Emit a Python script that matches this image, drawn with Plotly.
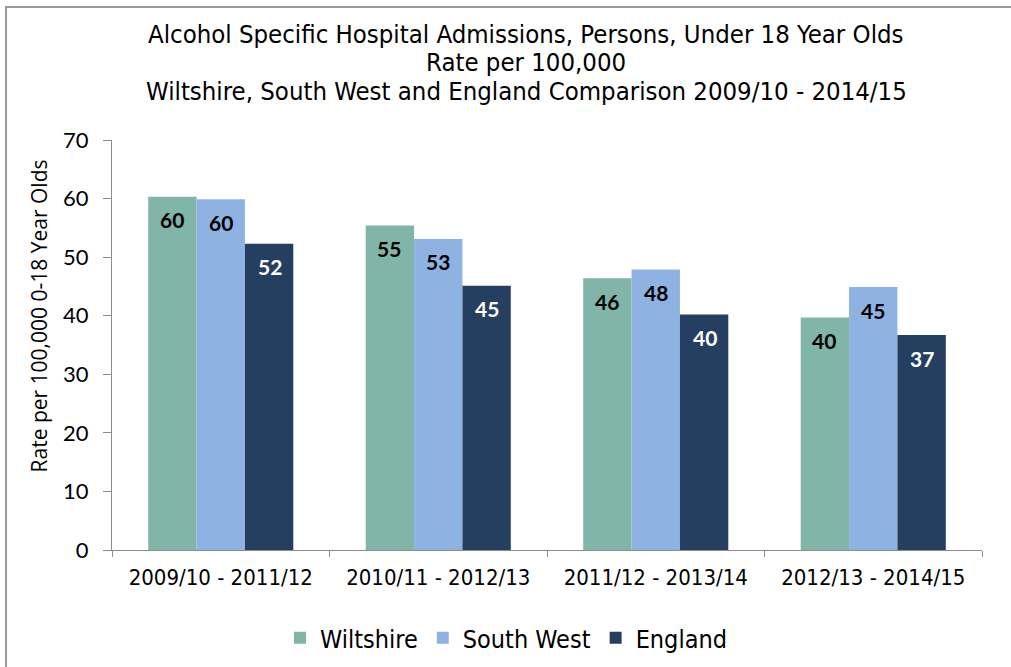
import plotly.graph_objects as go

# Rolling three-year periods
periods = ["2009/10 - 2011/12", "2010/11 - 2012/13", "2011/12 - 2013/14", "2012/13 - 2014/15"]

# Admission rates per 100,000 aged 0-18
wiltshire = [60.3, 55.4, 46.4, 39.7]
south_west = [59.9, 53.1, 47.9, 44.9]
england = [52.3, 45.1, 40.2, 36.7]

series_names = ["Wiltshire", "South West", "England"]
series_values = [wiltshire, south_west, england]
series_colors = ["#80B5A7", "#8EB3E2", "#253F60"]
label_colors = ["#000000", "#000000", "#FFFFFF"]

y_ticks = [0, 10, 20, 30, 40, 50, 60, 70]

title_lines = [
    "Alcohol Specific Hospital Admissions, Persons, Under 18 Year Olds",
    "Rate per 100,000",
    "Wiltshire, South West and England Comparison 2009/10 - 2014/15",
]

NARROW = "Liberation Sans Narrow, DejaVu Sans Condensed, Arial Narrow, sans-serif"
ROUND = "Lato, Carlito, Calibri, sans-serif"

fig = go.Figure()
for name, vals, col in zip(series_names, series_values, series_colors):
    fig.add_trace(go.Bar(
        name=name, x=periods, y=vals,
        marker=dict(color=col, line=dict(width=0)),
    ))

# Value labels just inside the top of each bar
bar_px = 49
offsets = [-bar_px, 0, bar_px]
annotations = []
for vals, off, tcol in zip(series_values, offsets, label_colors):
    for p, v in zip(periods, vals):
        annotations.append(dict(
            x=p, y=v, xref="x", yref="y", text=f"<b>{round(v)}</b>",
            showarrow=False, xshift=off, yshift=-23,
            font=dict(family=ROUND, size=21, color=tcol),
        ))

# Three-line heading, tightly spaced
for line, ypos in zip(title_lines, [1.2585, 1.1902, 1.1195]):
    annotations.append(dict(
        text=line, xref="paper", yref="paper", x=0.4759, y=ypos,
        xanchor="center", yanchor="middle", showarrow=False,
        font=dict(family=NARROW, size=25.5, color="#000000"),
    ))

# Vertical axis caption
annotations.append(dict(
    text="Rate per 100,000 0-18 Year Olds", textangle=-90,
    xref="paper", yref="paper", x=-0.0828, y=0.572,
    xanchor="center", yanchor="middle", showarrow=False,
    font=dict(family="Open Sans, sans-serif", size=21, color="#000000"),
))

fig.update_layout(
    width=1011, height=667,
    margin=dict(l=112, r=29, t=140, b=117),
    paper_bgcolor="white", plot_bgcolor="white",
    barmode="group", bargap=0.333, bargroupgap=0,
    xaxis=dict(
        showline=True, linecolor="#8C8C8C", linewidth=1,
        ticks="outside", ticklen=6, tickcolor="#8C8C8C", tickson="boundaries",
        tickfont=dict(family=NARROW, size=22, color="#000000"),
        ticklabelstandoff=8,
        showgrid=False,
    ),
    yaxis=dict(
        range=[0, 70], tickvals=y_ticks,
        showline=True, linecolor="#8C8C8C", linewidth=1,
        ticks="outside", ticklen=8, tickcolor="#8C8C8C",
        tickfont=dict(family=ROUND, size=22, color="#000000"),
        ticklabelstandoff=10,
        showgrid=False, zeroline=False,
    ),
    legend=dict(
        orientation="h", x=506 / 1011, xanchor="center", xref="container",
        y=1 - 638 / 667, yanchor="middle", yref="container",
        font=dict(family=NARROW, size=25, color="#000000"),
        itemwidth=30, traceorder="normal",
    ),
    annotations=annotations,
    shapes=[dict(
        type="path", xref="paper", yref="paper",
        path="M -0.1218,-0.30 L -0.1218,1.3244 L 1.05,1.3244",
        line=dict(color="#9A9A9A", width=2),
    )],
)

fig.write_html("out.html")
